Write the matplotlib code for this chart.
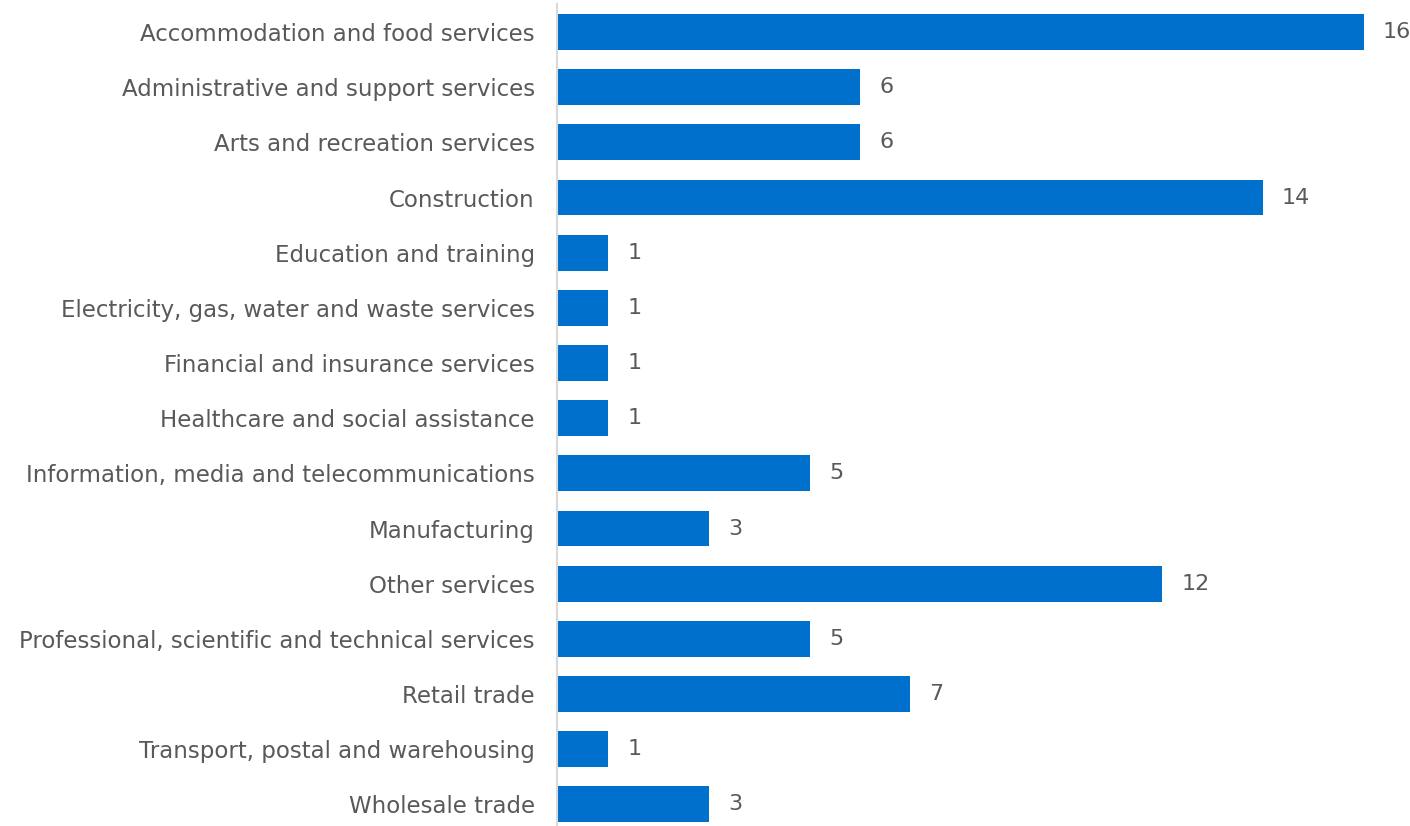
import matplotlib
matplotlib.use("Agg")
import matplotlib.pyplot as plt

categories = [
    "Accommodation and food services",
    "Administrative and support services",
    "Arts and recreation services",
    "Construction",
    "Education and training",
    "Electricity, gas, water and waste services",
    "Financial and insurance services",
    "Healthcare and social assistance",
    "Information, media and telecommunications",
    "Manufacturing",
    "Other services",
    "Professional, scientific and technical services",
    "Retail trade",
    "Transport, postal and warehousing",
    "Wholesale trade",
]
values = [16, 6, 6, 14, 1, 1, 1, 1, 5, 3, 12, 5, 7, 1, 3]

plt.rcParams["font.family"] = ["DejaVu Sans"]
text_color = "#595959"
bar_color = "#0070CD"

W, H = 1410, 826
fig = plt.figure(figsize=(W / 100, H / 100), dpi=100)
ax = fig.add_axes([557 / W, -6 / H, (W - 557) / W, (832 - 4.4) / H])

y = list(range(len(categories)))
ax.barh(y, values, height=0.65, color=bar_color, left=0.02)
ax.set_ylim(len(categories) - 0.5, -0.5)
ax.set_xlim(0, (W - 557) / 50.35)

for yi, v in zip(y, values):
    ax.text(v + 0.02 + 0.38, yi, str(v), va="center", ha="left",
            fontsize=16, color=text_color)

ax.set_yticks(y)
ax.set_yticklabels(categories, fontsize=16.5, color=text_color)
ax.tick_params(axis="y", length=0, pad=16)
ax.set_xticks([])
for s in ["top", "right", "bottom"]:
    ax.spines[s].set_visible(False)
ax.spines["left"].set_color("#D9D9D9")
ax.spines["left"].set_linewidth(1.5)

fig.savefig("out.png", dpi=100)
